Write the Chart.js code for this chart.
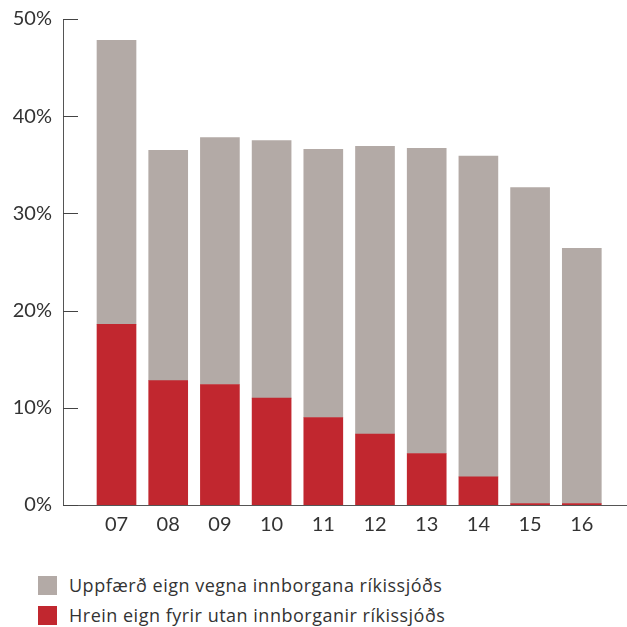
<!DOCTYPE html>
<html>
<head>
<meta charset="utf-8">
<script src="https://cdn.jsdelivr.net/npm/chart.js@4.4.1/dist/chart.umd.min.js"></script>
<style>
  html, body { margin: 0; padding: 0; background: #fff; overflow: hidden; }
  #wrap { position: relative; width: 627px; height: 627px; overflow: hidden; }
  #c { position: absolute; left: 0; top: -4px; }
  #legend { position: absolute; left: 38px; top: 570px; font-family: "Open Sans", sans-serif; font-size: 18px; letter-spacing: 0.5px; color: #333; }
  .item { display: flex; align-items: center; height: 30px; }
  .box { width: 19px; height: 19px; margin-right: 12px; }
</style>
</head>
<body>
<div id="wrap">
  <canvas id="c" width="627" height="553"></canvas>
  <div id="legend"></div>
</div>
<script>
const categories = ['07', '08', '09', '10', '11', '12', '13', '14', '15', '16'];
const netAssets = [18.6, 12.8, 12.4, 11.0, 9.0, 7.3, 5.3, 2.9, 0.15, 0.15];
const updatedAssets = [29.2, 23.7, 25.4, 26.5, 27.6, 29.6, 31.4, 33.0, 32.5, 26.25];
const yTicks = [0, 10, 20, 30, 40, 50];
const seriesNames = ['Hrein eign fyrir utan innborganir ríkissjóðs', 'Uppfærð eign vegna innborgana ríkissjóðs'];
const seriesColors = ['#c1272f', '#b3aaa6'];

const fontFamily = 'Lato, sans-serif';
const textColor = '#333333';

const inwardTicks = {
  id: 'inwardTicks',
  afterDraw(chart) {
    const y = chart.scales.y;
    const ctx = chart.ctx;
    ctx.save();
    ctx.strokeStyle = '#444';
    ctx.lineWidth = 1;
    yTicks.forEach(v => {
      const py = Math.round(y.getPixelForValue(v)) + 0.5;
      ctx.beginPath();
      ctx.moveTo(chart.chartArea.left, py);
      ctx.lineTo(chart.chartArea.left + 15, py);
      ctx.stroke();
    });
    ctx.restore();
  }
};

const chart = new Chart(document.getElementById('c'), {
  type: 'bar',
  data: {
    datasets: [
      { label: seriesNames[0], data: netAssets.map((v, i) => ({ x: i, y: v })), backgroundColor: seriesColors[0], barThickness: 39 },
      { label: seriesNames[1], data: updatedAssets.map((v, i) => ({ x: i, y: v })), backgroundColor: seriesColors[1], barThickness: 39 }
    ]
  },
  options: {
    responsive: false,
    animation: false,
    layout: { padding: { top: 9, right: 1, left: 0, bottom: 4 } },
    plugins: { legend: { display: false }, tooltip: { enabled: false } },
    scales: {
      x: {
        type: 'linear',
        stacked: true,
        offset: false,
        min: -1.035,
        max: 9.855,
        afterBuildTicks: (s) => { s.ticks = categories.map((c, i) => ({ value: i })); },
        ticks: {
          autoSkip: false, maxRotation: 0, padding: 8,
          font: { family: fontFamily, size: 20 }, color: textColor,
          callback: (v) => categories[v]
        },
        grid: { display: false, drawTicks: false },
        border: { display: true, color: '#555', width: 1 }
      },
      y: {
        stacked: true,
        min: 0, max: 50,
        afterBuildTicks: (s) => { s.ticks = yTicks.map(v => ({ value: v })); },
        afterFit: (s) => { s.width = 63; },
        ticks: {
          padding: 11,
          font: { family: fontFamily, size: 20 }, color: textColor,
          callback: (v) => v + '%'
        },
        grid: { display: false, drawTicks: false },
        border: { display: true, color: '#555', width: 1 }
      }
    }
  },
  plugins: [inwardTicks]
});

const legend = document.getElementById('legend');
[1, 0].forEach(i => {
  const d = document.createElement('div');
  d.className = 'item';
  d.innerHTML = '<span class="box" style="background:' + seriesColors[i] + '"></span><span>' + seriesNames[i] + '</span>';
  legend.appendChild(d);
});
</script>
</body>
</html>
